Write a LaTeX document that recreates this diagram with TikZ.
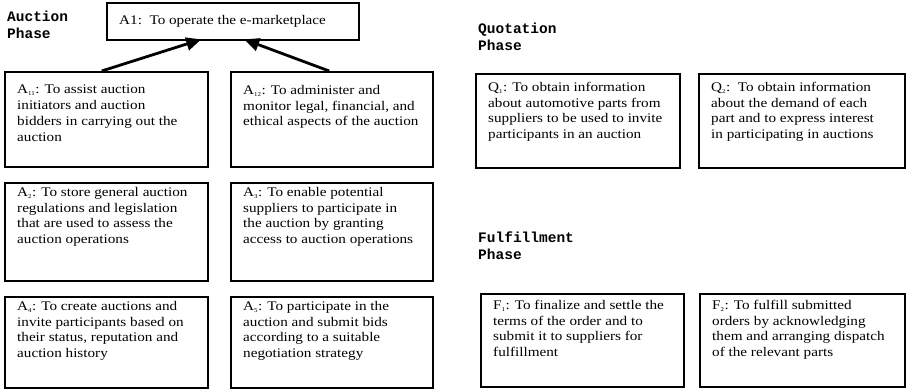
\documentclass[tikz,border=0pt]{standalone}
\usepackage{fontspec}
\setmainfont{Liberation Serif}[FakeStretch=1.15]
\setmonofont{Liberation Mono}
\usetikzlibrary{arrows.meta}
\newcommand{\gs}[1]{\textsubscript{\fontsize{6}{6}\selectfont #1}}
\tikzset{
  goal/.style   ={draw, line width=2.4pt, anchor=north west, inner sep=0pt},
  goaltxt/.style={anchor=north west, align=left, inner xsep=13pt, inner ysep=5pt,
                  font=\fontsize{13.2}{15.7}\selectfont},
  phase/.style  ={anchor=north west, align=left, inner sep=0pt,
                  font=\fontsize{14.5}{16.5}\selectfont\ttfamily\bfseries},
  arr/.style    ={-{Triangle[length=15pt, width=13pt]}, line width=2.8pt},
}

\begin{document}
\begin{tikzpicture}[x=1pt, y=-1pt]
  \useasboundingbox (0,0) rectangle (906,389);

  % phase titles
  \node[phase] (auction)   at (7,11)    {Auction\\Phase};
  \node[phase] (quotation) at (478,23)  {Quotation\\Phase};
  \node[phase] (fulfil)    at (478,232) {Fulfillment\\Phase};

  % auction phase goals
  \node[goal, minimum width=252pt, minimum height=37pt,
        label={[goaltxt, anchor=west]west:A1:\ \ To operate the e-marketplace}] (a1) at (106,2) {};
  \node[goal, minimum width=203pt, minimum height=95pt,
        label={[goaltxt, yshift=-9pt]north west:A\gs{11}: To assist auction\\initiators and auction\\bidders in carrying out the\\auction}] (a11) at (4,71) {};
  \node[goal, minimum width=202pt, minimum height=95pt,
        label={[goaltxt, yshift=-9pt]north west:A\gs{12}: To administer and\\monitor legal, financial, and\\ethical aspects of the auction}] (a12) at (230,71) {};
  \node[goal, minimum width=203pt, minimum height=98pt,
        label={[goaltxt]north west:A\gs{2}: To store general auction\\regulations and legislation\\that are used to assess the\\auction operations}] (a2) at (4,182) {};
  \node[goal, minimum width=202pt, minimum height=98pt,
        label={[goaltxt]north west:A\gs{3}: To enable potential\\suppliers to participate in\\the auction by granting\\access to auction operations}] (a3) at (230,182) {};
  \node[goal, minimum width=203pt, minimum height=91pt,
        label={[goaltxt]north west:A\gs{4}: To create auctions and\\invite participants based on\\their status, reputation and\\auction history}] (a4) at (4,296) {};
  \node[goal, minimum width=202pt, minimum height=91pt,
        label={[goaltxt]north west:A\gs{5}: To participate in the\\auction and submit bids\\according to a suitable\\negotiation strategy}] (a5) at (230,296) {};

  % quotation phase goals
  \node[goal, minimum width=204pt, minimum height=94pt,
        label={[goaltxt, yshift=-4pt]north west:Q\gs{1}: To obtain information\\about automotive parts from\\suppliers to be used to invite\\participants in an auction}] (q1) at (475,73) {};
  \node[goal, minimum width=206pt, minimum height=94pt,
        label={[goaltxt, yshift=-4pt]north west:Q\gs{2}:\ \ To obtain information\\about the demand of each\\part and to express interest\\in participating in auctions}] (q2) at (698,73) {};

  % fulfillment phase goals
  \node[goal, minimum width=203pt, minimum height=93pt,
        label={[goaltxt, yshift=-2pt]north west:F\gs{1}: To finalize and settle the\\terms of the order and to\\submit it to suppliers for\\fulfillment}] (f1) at (480,293) {};
  \node[goal, minimum width=205pt, minimum height=93pt,
        label={[goaltxt, yshift=-2pt]north west:F\gs{2}: To fulfill submitted\\orders by acknowledging\\them and arranging dispatch\\of the relevant parts}] (f2) at (699,293) {};

  \draw[arr] ([xshift=-5pt]a11.north) -- ([xshift=-32pt, yshift=2pt]a1.south);
  \draw[arr] ([xshift=-3pt]a12.north)  -- ([xshift=11pt, yshift=2pt]a1.south);
\end{tikzpicture}
\end{document}
